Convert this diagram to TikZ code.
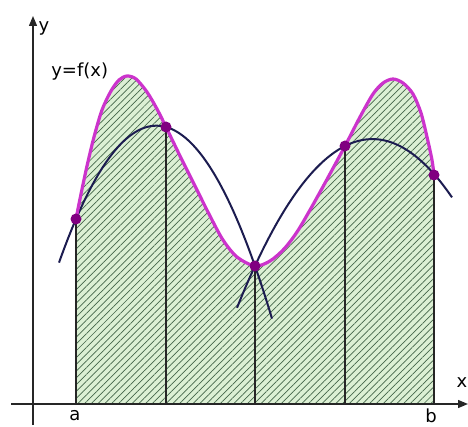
\documentclass[tikz,border=0pt]{standalone}
\usepackage{fontspec}
\setmainfont{DejaVu Sans}
\usetikzlibrary{arrows.meta,patterns.meta}
\definecolor{fcurve}{HTML}{CC33CC}
\definecolor{pcurve}{HTML}{1C1C50}
\definecolor{dotc}{HTML}{800080}
\definecolor{areafill}{HTML}{DCF0D4}
\definecolor{hatchc}{HTML}{44664A}
\begin{document}
\begin{tikzpicture}[x=1pt,y=-1pt,
  axis/.style={line width=1.3pt,black!85,-{Triangle[length=10pt,width=8pt]}},
  vline/.style={line width=1.4pt,black!85},
  fline/.style={line width=3.2pt,fcurve},
  pline/.style={line width=2pt,pcurve},
  area/.style={fill=areafill,postaction={pattern={Lines[angle=45,distance=4.8pt,line width=0.7pt]},pattern color=hatchc}},
  dot/.style={circle,fill=dotc,inner sep=0pt,minimum size=11pt},
  lbl/.style={font=\fontsize{18}{20}\selectfont,inner sep=0pt,text=black}]
\useasboundingbox (0,0) rectangle (468,427);
% hatched area under f
\path[area] (76,404) -- (76,219) -- plot[smooth] coordinates {(76,219) (81,194) (87,166) (94,137) (102,110) (111,91) (119,80) (127,76) (136,79) (147,92) (157,109) (166,127) (181,158) (196,188) (210,216) (223,240) (237,257) (255,266) (270,261) (284,249) (297,232) (310,210) (325,183) (345,146) (360,117) (373,94) (383,83) (393,79) (403,83) (413,94) (421,113) (427,137) (432,160) (434,175)} -- (434,404) -- cycle;
% axes
\coordinate (xs) at (11,404);
\coordinate (xe) at (468,404);
\coordinate (ys) at (33,425);
\coordinate (ye) at (33,16);
\draw[axis] (xs) -- (xe);
\draw[axis] (ys) -- (ye);
% points
\coordinate (p0) at (76,219);
\coordinate (p1) at (166,127);
\coordinate (p2) at (255,266);
\coordinate (p3) at (345,146);
\coordinate (p4) at (434,175);
% vertical lines
\foreach \p in {p0,p1,p2,p3,p4} \draw[vline] (\p |- xs) -- (\p);
% approximating parabolas
\draw[pline] plot[domain=59:272,samples=80] (\x,{125.7+(\x-156.4)*((\x-156.4)*0.014436)});
\draw[pline] plot[domain=237:452,samples=80] (\x,{139.1+(\x-372.4)*((\x-372.4)*0.009206)});
% f curve
\draw[fline] plot[smooth] coordinates {(76,219) (81,194) (87,166) (94,137) (102,110) (111,91) (119,80) (127,76) (136,79) (147,92) (157,109) (166,127) (181,158) (196,188) (210,216) (223,240) (237,257) (255,266) (270,261) (284,249) (297,232) (310,210) (325,183) (345,146) (360,117) (373,94) (383,83) (393,79) (403,83) (413,94) (421,113) (427,137) (432,160) (434,175)};
% dots
\foreach \p in {p0,p1,p2,p3,p4} \node[dot] (d\p) at (\p) {};
% labels
\node[lbl] (fl) at (79.7,72) {y=f(x)};
\node[lbl] (yl) at (44,28) {y};
\node[lbl] (xl) at (462,383) {x};
\node[lbl] (al) at (75,416) {a};
\node[lbl] (bl) at (431,416) {b};
\end{tikzpicture}
\end{document}
